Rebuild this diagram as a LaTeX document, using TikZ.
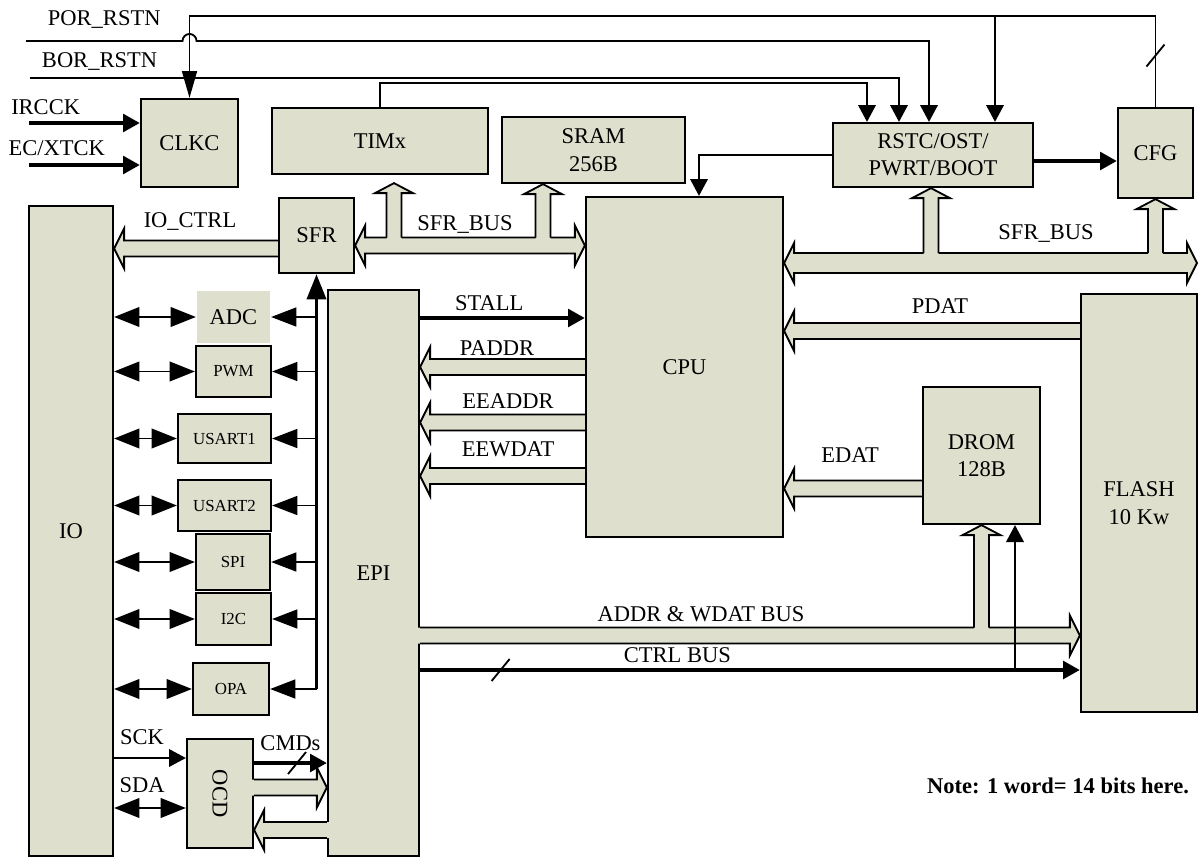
\documentclass[tikz,border=0pt]{standalone}
\usepackage{fontspec}
\setmainfont{Liberation Serif}
\usepackage{xcolor}
\usepackage{tikz}
\usetikzlibrary{positioning,arrows.meta,calc}
\definecolor{blockfill}{HTML}{DEDFCC}

% one pixel of the drawing grid
\newdimen\pxu \pxu=0.025cm

\tikzset{
  busfill/.style={fill=blockfill},
  busline/.style={draw=black,line width=1.3pt,line join=miter},
  widthmark/.pic={\draw[line width=1.3pt] (-9,11) -- (9,-11);},
}

% fat bus, heads at both ends (#2 left tip, #3 right tip)
\newcommand{\busLR}[3][8]{%
  \filldraw[busfill,busline] let \p1=#2, \p2=#3 in
    (\x1,\y1) -- (\x1+10*\pxu,\y1+20*\pxu) -- (\x1+10*\pxu,\y1+#1*\pxu)
    -- (\x2-10*\pxu,\y1+#1*\pxu) -- (\x2-10*\pxu,\y1+20*\pxu) -- (\x2,\y1)
    -- (\x2-10*\pxu,\y1-20*\pxu) -- (\x2-10*\pxu,\y1-#1*\pxu)
    -- (\x1+10*\pxu,\y1-#1*\pxu) -- (\x1+10*\pxu,\y1-20*\pxu) -- cycle;}

% fat bus, one head (#2 tail, #3 tip); #1 = how far the fill runs into the tail box
\newcommand{\busTo}[3][0]{%
  \fill[busfill] let \p1=#2, \p2=#3, \n1={(\x2-\x1)/abs(\x2-\x1)} in
    ({\x1-(\n1)*#1*\pxu},{\y1+8*\pxu}) -- ({\x2-(\n1)*10*\pxu},{\y1+8*\pxu})
    -- ({\x2-(\n1)*10*\pxu},{\y1+20*\pxu}) -- (\x2,\y1)
    -- ({\x2-(\n1)*10*\pxu},{\y1-20*\pxu}) -- ({\x2-(\n1)*10*\pxu},{\y1-8*\pxu})
    -- ({\x1-(\n1)*#1*\pxu},{\y1-8*\pxu}) -- cycle;
  \draw[busline] let \p1=#2, \p2=#3, \n1={(\x2-\x1)/abs(\x2-\x1)} in
    (\x1,\y1+8*\pxu) -- ({\x2-(\n1)*10*\pxu},{\y1+8*\pxu})
    -- ({\x2-(\n1)*10*\pxu},{\y1+20*\pxu}) -- (\x2,\y1)
    -- ({\x2-(\n1)*10*\pxu},{\y1-20*\pxu}) -- ({\x2-(\n1)*10*\pxu},{\y1-8*\pxu})
    -- (\x1,\y1-8*\pxu);}

% branch up from a bus (#2 on the bus top edge, #3 tip)
\newcommand{\busUp}[3][7.5]{%
  \fill[busfill] let \p1=#2, \p2=#3 in
    (\x2-#1*\pxu,\y1-3*\pxu) -- (\x2-#1*\pxu,\y2-10*\pxu) -- (\x2-19*\pxu,\y2-10*\pxu)
    -- (\x2,\y2) -- (\x2+19*\pxu,\y2-10*\pxu) -- (\x2+#1*\pxu,\y2-10*\pxu)
    -- (\x2+#1*\pxu,\y1-3*\pxu) -- cycle;
  \draw[busline] let \p1=#2, \p2=#3 in
    (\x2-#1*\pxu,\y1) -- (\x2-#1*\pxu,\y2-10*\pxu) -- (\x2-19*\pxu,\y2-10*\pxu)
    -- (\x2,\y2) -- (\x2+19*\pxu,\y2-10*\pxu) -- (\x2+#1*\pxu,\y2-10*\pxu)
    -- (\x2+#1*\pxu,\y1);}

\begin{document}
\begin{tikzpicture}[
  x=0.025cm, y=-0.025cm,
  font=\fontsize{16}{19.5}\selectfont,
  block/.style={draw=black,line width=1.6pt,fill=blockfill,align=center,inner sep=2pt},
  smalltxt/.style={font=\fontsize{12}{14}\selectfont},
  lbl/.style={inner sep=0pt},
  wire/.style={draw=black,line width=1.3pt},
  arr/.style={wire,-{Triangle[length=12pt,width=12.5pt]}},
  arrthk/.style={draw=black,line width=2.8pt,-{Triangle[length=12pt,width=12.5pt]}},
  arrlong/.style={wire,-{Triangle[length=18pt,width=13.5pt]}},
  arrio/.style={wire,{Triangle[length=18pt,width=14pt]}-{Triangle[length=18pt,width=14pt]}},
  arrclk/.style={wire,-{Triangle[length=19pt,width=10.6pt]}},
]
\useasboundingbox (0,0) rectangle (1199,857);

% TOP ROW: clock, timer, memory, reset, config
\node[block,minimum width=97*\pxu,minimum height=88*\pxu] (clkc) at (189.5,143) {CLKC};
\node[block,minimum width=216*\pxu,minimum height=66*\pxu] (timx) at (380,141) {TIMx};
\node[block,minimum width=183*\pxu,minimum height=66*\pxu] (sram) at (593.5,150) {SRAM\\256B};
\node[block,minimum width=200*\pxu,minimum height=64*\pxu] (rstc) at (933,155) {RSTC/OST/\\PWRT/BOOT};
\node[block,minimum width=75*\pxu,minimum height=90*\pxu] (cfg) at (1155.5,153) {CFG};
\node[block,minimum width=75*\pxu,minimum height=75*\pxu] (sfr) at (316.5,235.5) {SFR};

% core and memories
\node[block,minimum width=197*\pxu,minimum height=340*\pxu] (cpu) at (684.5,367) {CPU};
\node[block,minimum width=117*\pxu,minimum height=137*\pxu] (drom) at (981.5,455.5) {DROM\\128B};
\node[block,minimum width=116*\pxu,minimum height=418*\pxu] (flash) at (1139,503) {FLASH\\10 Kw};
\node[block,minimum width=84*\pxu,minimum height=650*\pxu] (io) at (71,531) {IO};
\node[block,minimum width=91*\pxu,minimum height=566*\pxu] (epi) at (373.5,573) {EPI};

% peripherals between IO and EPI
\node[block,draw=none,minimum width=73*\pxu,minimum height=52*\pxu] (adc) at (233.5,317) {ADC};
\node[block,smalltxt,minimum width=75*\pxu,minimum height=51*\pxu] (pwm) at (233.5,371.5) {PWM};
\node[block,smalltxt,minimum width=93*\pxu,minimum height=49*\pxu] (usart1) at (224.5,438.5) {USART1};
\node[block,smalltxt,minimum width=93*\pxu,minimum height=51*\pxu] (usart2) at (224.5,505.5) {USART2};
\node[block,smalltxt,minimum width=74*\pxu,minimum height=56*\pxu] (spi) at (233,562) {SPI};
\node[block,smalltxt,minimum width=75*\pxu,minimum height=52*\pxu] (i2c) at (233.5,619) {I2C};
\node[block,smalltxt,minimum width=76*\pxu,minimum height=52*\pxu] (opa) at (231,689) {OPA};
\node[block,minimum width=66*\pxu,minimum height=109*\pxu] (ocd) at (220,793.5) {\rotatebox{-90}{OCD}};

% levels and free ends
\coordinate (toprail) at (0,16);
\coordinate (porin) at (26,41);
\coordinate (borin) at (30,78);
\coordinate (ircin) at (29,123);
\coordinate (ecin) at (29,165);
\coordinate (ysfrL) at (0,245.5);
\coordinate (ysfrLtop) at (0,237.5);
\coordinate (yioctrl) at (0,248.5);
\coordinate (ysfrR) at (0,263);
\coordinate (ysfrRtop) at (0,253);
\coordinate (busend) at (1197,263);
\coordinate (ystall) at (0,318);
\coordinate (ypdat) at (0,331);
\coordinate (ypaddr) at (0,367);
\coordinate (yeeaddr) at (0,422.5);
\coordinate (yeewdat) at (0,476);
\coordinate (yedat) at (0,488.5);
\coordinate (yaddr) at (0,635.5);
\coordinate (yaddrtop) at (0,627.5);
\coordinate (yctrl) at (0,670);
\coordinate (ysck) at (0,758);
\coordinate (ycmd) at (0,763);
\coordinate (yocdin) at (0,787.5);
\coordinate (ysda) at (0,808);
\coordinate (yocdout) at (0,830);
\coordinate (portap) at ($(rstc.north)+(-4,0)$);
\coordinate (bortap) at ($(rstc.north)+(-34,0)$);
\coordinate (timtap) at ($(rstc.north)+(-66,0)$);
\coordinate (cfgtap) at ($(rstc.north)+(62,0)$);
\coordinate (cfgtop) at (cfg.north |- toprail);
\coordinate (cpufb) at ($(cpu.north)+(14.5,0)$);
\coordinate (rstcout) at ($(rstc.east)+(0,6)$);
\coordinate (dromctl) at ($(drom.south)+(33.5,0)$);

% SFR_BUS, left part
\busLR{(sfr.east |- ysfrL)}{(cpu.west |- ysfrL)}
\busUp{(ysfrLtop)}{($(timx.south)+(14,8)$)}
\busUp{(ysfrLtop)}{($(sram.south)+(-50.5,0)$)}
\node[lbl,anchor=base] (sfrbusl) at (465,230) {SFR\_BUS};
\busTo{(sfr.west |- yioctrl)}{(io.east |- yioctrl)}
\node[lbl,anchor=base] (ioctrl) at (190,227) {IO\_CTRL};

% SFR_BUS, right part
\busLR[10]{(cpu.east |- ysfrR)}{(busend)}
\busUp{(ysfrRtop)}{($(rstc.south)+(-2,0)$)}
\busUp{(ysfrRtop)}{(cfg.south)}
\node[lbl,anchor=base] (sfrbusr) at (1046,239) {SFR\_BUS};

% data paths around the CPU
\busTo{(flash.west |- ypdat)}{(cpu.east |- ypdat)}
\node[lbl,anchor=base] (pdat) at (940,313) {PDAT};
\busTo{(drom.west |- yedat)}{(cpu.east |- yedat)}
\node[lbl,anchor=base] (edat) at (850,462) {EDAT};
\busTo{(cpu.west |- ypaddr)}{(epi.east |- ypaddr)}
\node[lbl,anchor=base] (paddr) at (497,355) {PADDR};
\busTo{(cpu.west |- yeeaddr)}{(epi.east |- yeeaddr)}
\node[lbl,anchor=base] (eeaddr) at (508,408) {EEADDR};
\busTo{(cpu.west |- yeewdat)}{(epi.east |- yeewdat)}
\node[lbl,anchor=base] (eewdat) at (508,456) {EEWDAT};

% EPI to memories
\busTo[3]{(epi.east |- yaddr)}{(flash.west |- yaddr)}
\busUp{(yaddrtop)}{(drom.south)}
\node[lbl,anchor=base] (addrbus) at (701,621) {ADDR \& WDAT BUS};
\draw[arrthk] (epi.east |- yctrl) -- node[lbl,above=3.5pt,pos=.39]{CTRL BUS} (flash.west |- yctrl);
\pic at ($(epi.east |- yctrl)!0.122!(flash.west |- yctrl)$) {widthmark};
\draw[arr] (dromctl |- yctrl) -- (dromctl);
\draw[arrthk] (epi.east |- ystall) -- node[lbl,above=3.5pt,pos=.42]{STALL} (cpu.west |- ystall);

% reset and clock lines along the top
\draw[arr] (porin) -- node[lbl,above=8pt]{POR\_RSTN} ($(porin -| clkc.north)+(-7,0)$)
  arc[start angle=180,end angle=0,radius=5pt] -| (portap);
\draw[arr] (borin) -| node[lbl,above=4.5pt,pos=.04]{BOR\_RSTN} (bortap);
\draw[arr] (timx.north) -- ++(0,-24) -| (timtap);
\draw[arrclk] (cfg.north) -- (cfgtop) -| (clkc.north);
\draw[arr] (cfgtap |- toprail) -- (cfgtap);
\pic at ($(cfg.north)!0.565!(cfgtop)$) {widthmark};
\draw[arrthk] (ircin) -- node[lbl,above=4.3pt,pos=.15]{IRCCK} (ircin -| clkc.west);
\draw[arrthk] (ecin) -- node[lbl,above=5.5pt,pos=.25]{EC/XTCK} (ecin -| clkc.west);
\draw[arrthk] (rstcout) -- (rstcout -| cfg.west);
\draw[arr] (rstc.west) -| (cpufb);

% peripheral control from SFR, pins to IO
\draw[arrlong,line width=2.8pt] (sfr.south |- opa.east) -- (sfr.south);
\draw[arrlong] (sfr.south |- adc.east) -- (adc.east);
\draw[arrlong] (sfr.south |- pwm.east) -- (pwm.east);
\draw[arrlong] (sfr.south |- usart1.east) -- (usart1.east);
\draw[arrlong] (sfr.south |- usart2.east) -- (usart2.east);
\draw[arrlong] (sfr.south |- spi.east) -- (spi.east);
\draw[arrlong] (sfr.south |- i2c.east) -- (i2c.east);
\draw[arrlong] (sfr.south |- opa.east) -- (opa.east);
\draw[arrio] (io.east |- adc.west) -- (adc.west);
\draw[arrio] (io.east |- pwm.west) -- (pwm.west);
\draw[arrio] (io.east |- usart1.west) -- (usart1.west);
\draw[arrio] (io.east |- usart2.west) -- (usart2.west);
\draw[arrio] (io.east |- spi.west) -- (spi.west);
\draw[arrio] (io.east |- i2c.west) -- (i2c.west);
\draw[arrio] (io.east |- opa.west) -- (opa.west);

% debug port
\draw[arr] (io.east |- ysck) -- node[lbl,above=9pt,pos=.39]{SCK} (ocd.west |- ysck);
\draw[arrio] (io.east |- ysda) -- node[lbl,above=10.5pt,pos=.39]{SDA} (ocd.west |- ysda);
\draw[arrthk] (ocd.east |- ycmd) -- node[lbl,above=7.5pt]{CMDs} (epi.west |- ycmd);
\pic at ($(ocd.east |- ycmd)!0.59!(epi.west |- ycmd)$) {widthmark};
\busTo[3]{(ocd.east |- yocdin)}{(epi.west |- yocdin)}
\busTo[3]{(epi.west |- yocdout)}{(ocd.east |- yocdout)}

\node[lbl,anchor=base,font=\fontsize{16}{19.5}\selectfont\bfseries] (note) at (1058,793) {Note: 1 word= 14 bits here.};
\end{tikzpicture}
\end{document}
